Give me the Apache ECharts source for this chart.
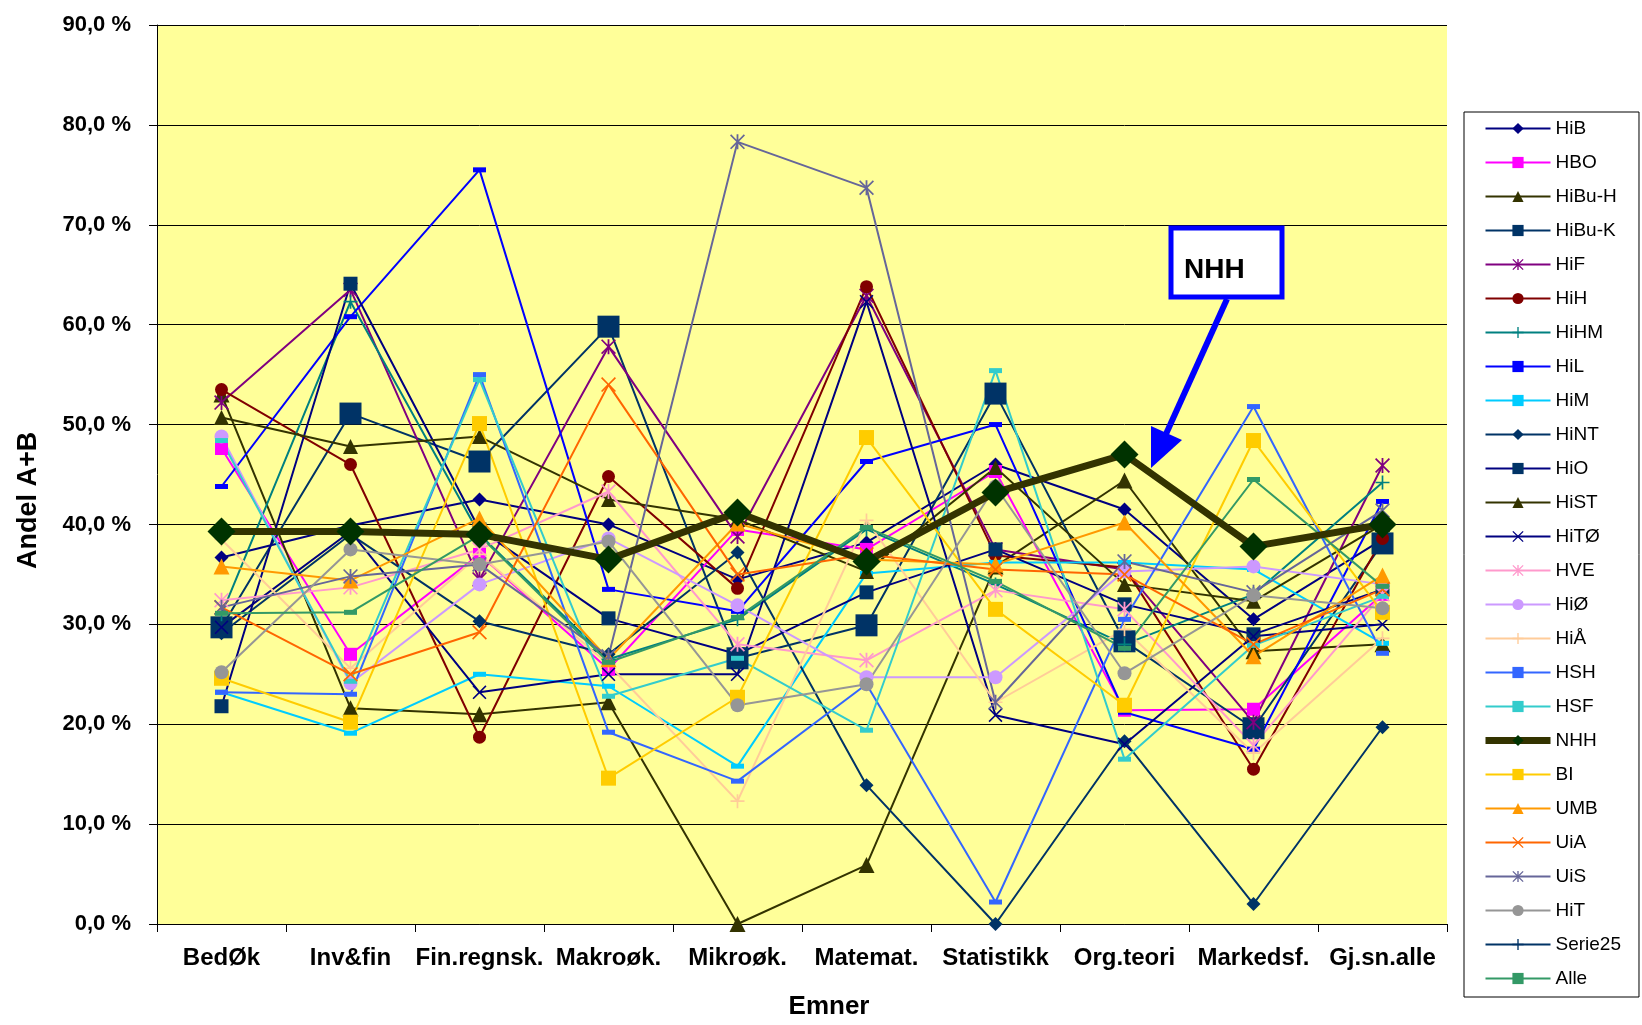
<!DOCTYPE html>
<html><head><meta charset="utf-8">
<script src="https://cdn.jsdelivr.net/npm/echarts@6/dist/echarts.min.js"></script>
<style>html,body{margin:0;padding:0;background:#fff}#c{width:1642px;height:1025px}</style>
</head><body><div id="c"></div>
<script>
const categories = ['BedØk','Inv&fin','Fin.regnsk.','Makroøk.','Mikroøk.','Matemat.','Statistikk','Org.teori','Markedsf.','Gj.sn.alle'];
const yTicks = [0,10,20,30,40,50,60,70,80,90];

const HiB    = [36.7, 39.9, 42.5, 40.0, 34.5, 38.2, 46.0, 41.5, 30.5, 38.5];
const HBO    = [47.6, 27.0, 37.0, 25.5, 39.5, 37.5, 45.3, 21.4, 21.5, 33.0];
const HiBu_H = [53.0, 21.6, 21.0, 22.2,  0.0,  5.9, 35.8, 44.4, 27.3, 28.0];
const HiBu_K = [29.7, 51.1, 46.3, 59.8, 26.6, 29.9, 53.1, 28.3, 19.6, 38.1];
const HiF    = [52.2, 63.5, 34.5, 57.8, 38.8, 62.9, 37.5, 35.5, 20.2, 45.9];
const HiH    = [53.5, 46.0, 18.7, 44.8, 33.6, 63.8, 36.9, 35.7, 15.5, 38.6];
const HiHM   = [31.0, 62.3, 39.0, 26.5, 30.5, 39.5, 34.0, 28.0, 33.0, 44.2];
const HiL    = [43.8, 60.8, 75.5, 33.5, 31.3, 46.3, 50.0, 21.2, 17.5, 42.3];
const HiM    = [23.2, 19.1, 25.0, 23.8, 15.8, 35.1, 36.2, 36.2, 35.5, 28.1];
const HiNT   = [29.1, 39.0, 30.3, 27.0, 37.2, 13.9,  0.0, 18.3,  2.0, 19.7];
const HiO    = [21.8, 64.1, 39.5, 30.6, 27.0, 33.2, 37.5, 32.0, 29.0, 33.5];
const HiST   = [50.7, 47.8, 48.8, 42.5, 40.5, 35.3, 45.7, 34.0, 32.3, 40.0];
const HiTO   = [29.7, 39.3, 23.2, 25.0, 25.0, 62.3, 20.9, 18.0, 28.8, 30.0];
const HVE    = [32.4, 33.7, 37.5, 43.3, 28.0, 26.4, 33.4, 31.5, 17.9, 33.0];
const HiOE   = [48.8, 24.1, 34.0, 38.6, 31.9, 24.7, 24.7, 35.3, 35.8, 34.0];
const HiAA   = [38.5, 25.6, 37.0, 26.0, 12.3, 40.4, 22.2, 29.5, 17.1, 28.6];
const HSH    = [23.2, 23.0, 55.0, 19.2, 14.3, 24.0,  2.2, 30.5, 51.8, 27.1];
const HSF    = [48.4, 24.3, 54.5, 22.8, 26.6, 19.4, 55.4, 16.5, 27.9, 32.8];
const NHH    = [39.3, 39.3, 39.0, 36.5, 41.2, 36.3, 43.2, 47.0, 37.8, 40.0];
const BI     = [24.6, 20.2, 50.1, 14.6, 22.7, 48.7, 31.5, 21.9, 48.4, 31.2];
const UMB    = [35.8, 34.4, 40.6, 26.5, 40.1, 36.5, 36.0, 40.2, 26.8, 34.9];
const UiA    = [31.7, 25.0, 29.2, 54.0, 35.0, 37.0, 35.5, 35.0, 28.0, 33.5];
const UiS    = [31.7, 34.8, 36.0, 26.8, 78.3, 73.7, 22.2, 36.3, 33.2, 41.4];
const HiT    = [25.2, 37.5, 36.0, 38.3, 21.9, 24.0, 43.8, 25.1, 32.9, 31.6];
const Serie25 = [null, null, null, null, null, null, null, null, null, null];
const Alle   = [31.1, 31.2, 38.9, 26.2, 30.7, 39.7, 34.3, 27.6, 44.5, 33.8];

const PLUS = 'path://M44,0H56V44H100V56H56V100H44V56H0V44H44Z';
const XS = 'path://M0,8L8,0L50,42L92,0L100,8L58,50L100,92L92,100L50,58L8,100L0,92L42,50Z';
const STAR = 'path://M0,8L8,0L50,42L92,0L100,8L58,50L100,92L92,100L50,58L8,100L0,92L42,50Z M44,0H56V100H44Z';

const meta = [
  ['HiB', HiB, '#000080', '#000080', 'diamond', 14],
  ['HBO', HBO, '#FF00FF', '#FF00FF', 'rect', 13],
  ['HiBu-H', HiBu_H, '#333300', '#333300', 'triangle', 16],
  ['HiBu-K', HiBu_K, '#003366', '#003366', 'rect', 22],
  ['HiF', HiF, '#800080', '#800080', STAR, 15],
  ['HiH', HiH, '#800000', '#800000', 'circle', 13],
  ['HiHM', HiHM, '#008080', '#008080', PLUS, 14],
  ['HiL', HiL, '#0000FF', '#0000FF', 'rect', [13,5]],
  ['HiM', HiM, '#00CCFF', '#00CCFF', 'rect', [13,5]],
  ['HiNT', HiNT, '#003366', '#003366', 'diamond', 14],
  ['HiO', HiO, '#000080', '#003366', 'rect', 14],
  ['HiST', HiST, '#333300', '#333300', 'triangle', 15],
  ['HiTØ', HiTO, '#000080', '#000080', XS, 14],
  ['HVE', HVE, '#FF99CC', '#FF99CC', STAR, 15],
  ['HiØ', HiOE, '#CC99FF', '#CC99FF', 'circle', 14],
  ['HiÅ', HiAA, '#FFCC99', '#FFCC99', PLUS, 14],
  ['HSH', HSH, '#3366FF', '#3366FF', 'rect', [13,5]],
  ['HSF', HSF, '#33CCCC', '#33CCCC', 'rect', [13,5]],
  ['NHH', NHH, '#333300', '#003300', 'diamond', 28],
  ['BI', BI, '#FFCC00', '#FFCC00', 'rect', 15],
  ['UMB', UMB, '#FF9900', '#FF9900', 'triangle', 16],
  ['UiA', UiA, '#FF6600', '#FF6600', XS, 15],
  ['UiS', UiS, '#666699', '#666699', STAR, 15],
  ['HiT', HiT, '#969696', '#969696', 'circle', 14],
  ['Serie25', Serie25, '#003366', '#003366', PLUS, 14],
  ['Alle', Alle, '#339966', '#339966', 'rect', [13,5]]
];

const FONT = '"Liberation Sans", Arial, sans-serif';

const series = meta.map(m => ({
  name: m[0], type: 'line', data: m[1],
  symbol: m[4], symbolSize: m[5], showSymbol: true,
  lineStyle: { color: m[2], width: m[0] === 'NHH' ? 7 : 2 },
  itemStyle: { color: m[3], borderWidth: 0 },
  connectNulls: false,
  z: m[0] === 'NHH' ? 3 : 2
}));

const legendData = meta.map(m => m[0] === 'NHH'
  ? { name: m[0], lineStyle: { width: 7, color: '#333300' } }
  : { name: m[0] });

const chart = echarts.init(document.getElementById('c'), null, { renderer: 'canvas' });
chart.setOption({
  animation: false,
  backgroundColor: '#ffffff',
  grid: { left: 157, top: 25, right: 195, bottom: 101, show: true, backgroundColor: '#FFFF99', borderWidth: 0 },
  xAxis: {
    type: 'category', data: categories, boundaryGap: true,
    axisLine: { lineStyle: { color: '#000', width: 1 } },
    axisTick: { show: true, alignWithLabel: false, length: 8, lineStyle: { color: '#000' } },
    axisLabel: { interval: 0, margin: 22, color: '#000', fontFamily: FONT, fontWeight: 'bold', fontSize: 24 },
    splitLine: { show: false }
  },
  yAxis: {
    type: 'value', min: yTicks[0], max: yTicks[yTicks.length - 1], interval: 10,
    axisLine: { show: true, lineStyle: { color: '#000', width: 1 } },
    axisTick: { show: true, length: 8, lineStyle: { color: '#000' } },
    axisLabel: { margin: 26, color: '#000', fontFamily: FONT, fontWeight: 'bold', fontSize: 22,
      formatter: v => v.toFixed(1).replace('.', ',') + ' %' },
    splitLine: { show: true, lineStyle: { color: '#000', width: 1 } }
  },
  legend: {
    orient: 'vertical', left: 1464, top: 112, height: 1000,
    padding: [7, 18, 9, 18], itemGap: 15, itemWidth: 65, itemHeight: 14,
    backgroundColor: '#ffffff', borderColor: '#000', borderWidth: 1,
    textStyle: { color: '#000', fontFamily: FONT, fontSize: 19 },
    data: legendData
  },
  series: series,
  graphic: [
    { type: 'text', x: 29, y: 478 * 1.047, rotation: Math.PI / 2,
      style: { text: 'Andel A+B', fill: '#000', font: 'bold 27px ' + FONT, align: 'center', verticalAlign: 'middle' } },
    { type: 'text', x: 829, y: 1007,
      style: { text: 'Emner', fill: '#000', font: 'bold 26px ' + FONT, align: 'center', verticalAlign: 'middle' } },
    { type: 'rect', shape: { x: 1171, y: 228, width: 111, height: 69 },
      style: { fill: '#ffffff', stroke: '#0000FF', lineWidth: 5 }, z: 100 },
    { type: 'text', x: 1184, y: 270, z: 101,
      style: { text: 'NHH', fill: '#000', font: 'bold 28px ' + FONT, align: 'left', verticalAlign: 'middle' } },
    { type: 'line', shape: { x1: 1227, y1: 299, x2: 1166, y2: 434 }, style: { stroke: '#0000FF', lineWidth: 6 }, z: 100 },
    { type: 'polygon', shape: { points: [[1151, 468], [1182, 440], [1151, 426]] }, style: { fill: '#0000FF' }, z: 100 }
  ]
});
</script>
</body></html>
